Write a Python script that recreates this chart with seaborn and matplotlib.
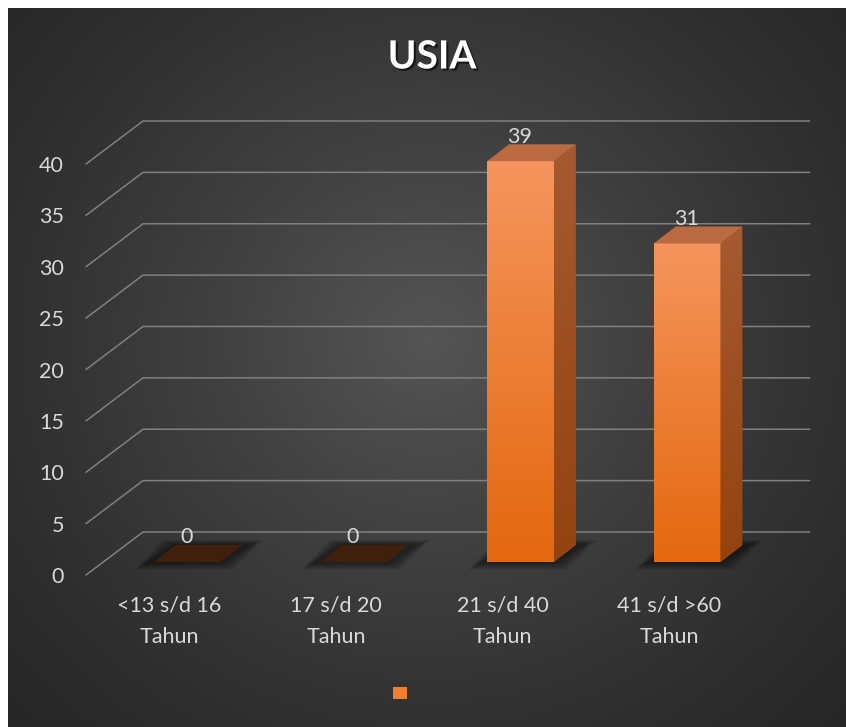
import numpy as np
import pandas as pd
import matplotlib
matplotlib.use("Agg")
import matplotlib.pyplot as plt
import seaborn as sns
from matplotlib.transforms import ScaledTranslation, IdentityTransform
from matplotlib.patches import Polygon, Patch
from matplotlib.lines import Line2D
from matplotlib.colors import LinearSegmentedColormap
import matplotlib.patheffects as pe

# ---------------- data ----------------
categories = ["<13 s/d 16\nTahun", "17 s/d 20\nTahun", "21 s/d 40\nTahun", "41 s/d >60\nTahun"]
values = [0, 0, 39, 31]
y_ticks = [0, 5, 10, 15, 20, 25, 30, 35, 40]
title = "USIA"

# ---------------- style ----------------
sns.set_theme(style="dark")
plt.rcParams["font.family"] = ["Lato", "DejaVu Sans"]
TXT = "#D9D9D9"
GRID = "#808080"
FS = 15.5

W, H, DPI = 846, 727, 100
fig = plt.figure(figsize=(W / DPI, H / DPI), dpi=DPI, facecolor="white")

# background with radial gradient
bg = fig.add_axes([8 / W, 0, (W - 8) / W, (H - 8) / H])
bg.axis("off")
gw, gh = W - 8, H - 8
yy, xx = np.mgrid[0:gh, 0:gw]
r = np.sqrt((xx - 420) ** 2 + ((yy - 330) * 1.05) ** 2)
t = np.clip(1 - r / 620, 0, 1) ** 1.3
c_edge = np.array([0x25, 0x25, 0x25]) / 255
c_mid = np.array([0x55, 0x55, 0x55]) / 255
img = c_edge[None, None, :] + (c_mid - c_edge)[None, None, :] * t[..., None]
bg.imshow(img, extent=(0, 1, 0, 1), aspect="auto", origin="upper")
bg.set_xlim(0, 1)
bg.set_ylim(0, 1)

# main axes: the plane of the bar fronts
px_per_unit = 411 / 40
ymax = 44
ax_left, ax_w = 103.7, 666.7
ax_bottom = 562
ax_h = px_per_unit * ymax
ax = fig.add_axes([ax_left / W, (H - ax_bottom) / H, ax_w / W, ax_h / H])
ax.set_facecolor("none")

df = pd.DataFrame({"Kategori": categories, "Jumlah": values})
sns.barplot(data=df, x="Kategori", y="Jumlah", width=0.4, color="#F07F30",
            saturation=1, ax=ax, zorder=5, linewidth=0)
ax.set_xlim(-0.5, 3.5)
ax.set_ylim(0, ymax)
ax.grid(False)
for s in ax.spines.values():
    s.set_visible(False)
ax.set_xlabel("")
ax.set_ylabel("")

# pixel -> data helpers
ppx = ax_w / 4.0
def dxd(p):
    return p / ppx
def dyd(p):
    return p / px_per_unit

# gridlines (back wall + side floor lines), in display pixels
FRONT = np.array([-17.7, -13.0])
BACK = np.array([39.3, 30.0])
for tv in y_ticks:
    p0 = ax.transData.transform((-0.5, tv))
    p1 = ax.transData.transform((3.5, tv))
    f = p0 + FRONT
    b0 = p0 + BACK
    b1 = p1 + BACK
    ax.add_line(Line2D([f[0], b0[0], b1[0]], [f[1], b0[1], b1[1]],
                       transform=IdentityTransform(), color=GRID, lw=1.1,
                       zorder=1, clip_on=False))

# 3D bar decorations
DX, DY = dxd(22), dyd(17)
front_grad = np.linspace(0, 1, 100)[:, None]
cm_front = LinearSegmentedColormap.from_list("f", ["#E4680F", "#F5955D"])
cm_side = LinearSegmentedColormap.from_list("s", ["#93430F", "#A65A30"])

for patch, v in zip(ax.patches, values):
    x0 = patch.get_x()
    w = patch.get_width()
    x1 = x0 + w
    h = patch.get_height()
    # soft shadow around the footprint
    for k in range(8, 0, -1):
        m = k * 1.6
        shp = [(x0 - dxd(m + 6), -dyd(m * 0.6)), (x1 + dxd(m), -dyd(m * 0.6)),
               (x1 + DX + dxd(m + 8), DY + dyd(m * 0.4)),
               (x0 + DX - dxd(m), DY + dyd(m * 0.4))]
        ax.add_patch(Polygon(shp, closed=True, facecolor="black", edgecolor="none",
                             alpha=0.07, zorder=2, clip_on=False))
    if h > 0:
        im = ax.imshow(front_grad, cmap=cm_front, extent=(x0, x1, 0, h),
                       aspect="auto", origin="lower", zorder=5.5,
                       interpolation="bilinear")
        im.set_clip_path(patch)
        side = Polygon([(x1, 0), (x1 + DX, DY), (x1 + DX, h + DY), (x1, h)],
                       closed=True, facecolor="#9C4E1F", edgecolor="none",
                       zorder=5.2)
        ax.add_patch(side)
        im2 = ax.imshow(front_grad, cmap=cm_side, extent=(x1, x1 + DX, 0, h + DY),
                        aspect="auto", origin="lower", zorder=5.6,
                        interpolation="bilinear")
        im2.set_clip_path(side)
        top_col = "#BA6B41"
    else:
        top_col = "#40200C"
    ax.add_patch(Polygon([(x0, h), (x1, h), (x1 + DX, h + DY), (x0 + DX, h + DY)],
                         closed=True, facecolor=top_col, edgecolor="none",
                         zorder=6))
    ax.annotate(str(v), xy=(x0 + w / 2, h), xytext=(-0.5, 13.4),
                textcoords="offset points", ha="center", va="baseline",
                color=TXT, fontsize=FS, zorder=7)

ax.set_xlim(-0.5, 3.5)
ax.set_ylim(0, ymax)

# ticks
ax.set_xticks(range(len(categories)), labels=categories, linespacing=1.75)
ax.set_yticks(y_ticks, labels=[str(v) for v in y_ticks])
ax.tick_params(axis="both", length=0, colors=TXT, labelsize=FS)
ax.tick_params(axis="y", pad=28.6)
ax.tick_params(axis="x", pad=24)
for lab in ax.get_xticklabels():
    lab.set_linespacing(1.75)
    lab.set_transform(lab.get_transform() +
                      ScaledTranslation(-17.7 / DPI, 0, fig.dpi_scale_trans))
for lab in ax.get_yticklabels():
    lab.set_transform(lab.get_transform() +
                      ScaledTranslation(0, -13 / DPI, fig.dpi_scale_trans))

# title
fig.text(432 / W, 1 - 57 / H, title, ha="center", va="center", fontsize=28,
         fontweight="bold", color="white",
         path_effects=[pe.withSimplePatchShadow(offset=(1.5, -1.5),
                                                shadow_rgbFace="black", alpha=0.6)])

# legend (single unnamed series)
fig.legend(handles=[Patch(facecolor="#F07F30", edgecolor="none")], labels=[""],
           loc="center", bbox_to_anchor=(400 / W, 1 - 693.5 / H), frameon=False,
           handlelength=1.0, handleheight=1.0, fontsize=10, handletextpad=0,
           borderpad=0, borderaxespad=0)

fig.savefig("out.png", dpi=DPI, facecolor=fig.get_facecolor())
